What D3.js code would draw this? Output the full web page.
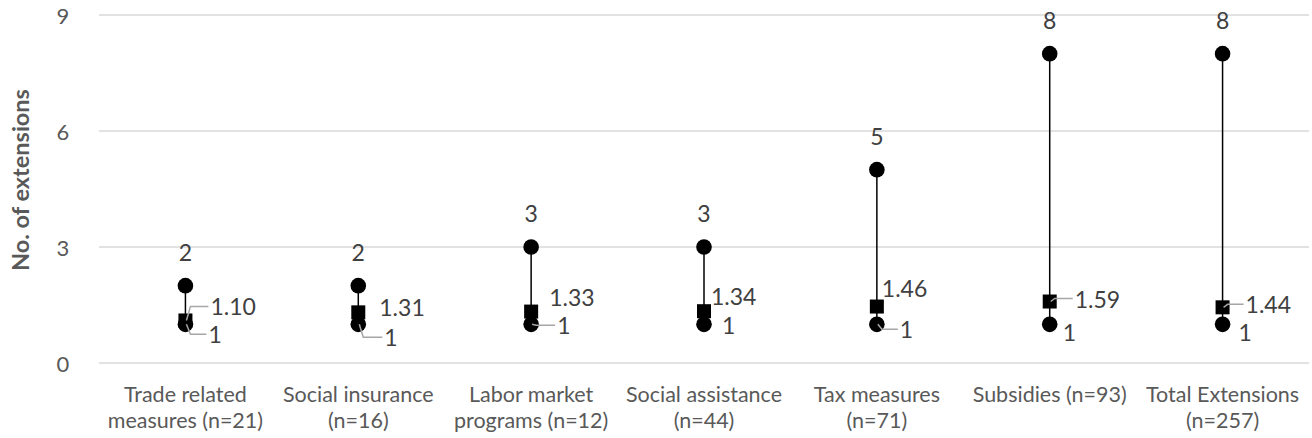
<!DOCTYPE html>
<html>
<head>
<meta charset="utf-8">
<script src="https://cdn.jsdelivr.net/npm/d3@7/dist/d3.min.js"></script>
<style>
  html, body { margin: 0; padding: 0; background: #fff; }
  svg { display: block; font-family: Lato, "Open Sans", sans-serif; }
</style>
</head>
<body>
<svg id="chart" width="1312" height="438"></svg>
<script>
// Extensions per instrument type: minimum, mean and maximum
const categories = [
  ["Trade related", "measures (n=21)"],
  ["Social insurance", "(n=16)"],
  ["Labor market", "programs (n=12)"],
  ["Social assistance", "(n=44)"],
  ["Tax measures", "(n=71)"],
  ["Subsidies (n=93)"],
  ["Total Extensions", "(n=257)"]
];
const minValues  = [1, 1, 1, 1, 1, 1, 1];
const meanValues = [1.10, 1.31, 1.33, 1.34, 1.46, 1.59, 1.44];
const maxValues  = [2, 2, 3, 3, 5, 8, 8];
const yTicks = [0, 3, 6, 9];

// Hand-placed label offsets (px, relative to the marker) and leader flags
const meanLabelPos = [[25, -14, true], [21, -5, false], [18, -15, false], [7, -15, false], [5, -19, false], [25, -3, true], [23, -3, true]];
const minLabelPos  = [[23, 10, true], [26, 13, true], [26, 1, true], [18, 1, false], [23, 5, true], [13, 8, false], [16, 8, false]];

const svg = d3.select("#chart");
const margin = { left: 99, right: 3, top: 15, bottom: 75 };
const W = 1312, H = 438;
const textColor = "#595959";

const x = d3.scaleBand()
  .domain(d3.range(categories.length))
  .range([margin.left, W - margin.right]);
const y = d3.scaleLinear().domain([0, 9]).range([H - margin.bottom, margin.top]);

// Horizontal gridlines
svg.append("g")
  .selectAll("line")
  .data(yTicks)
  .join("line")
  .attr("x1", margin.left).attr("x2", W - margin.right)
  .attr("y1", d => y(d)).attr("y2", d => y(d))
  .attr("stroke", "#d9d9d9").attr("stroke-width", 1.5);

// Y axis tick labels
svg.append("g")
  .selectAll("text")
  .data(yTicks)
  .join("text")
  .attr("x", 63).attr("y", d => y(d))
  .attr("text-anchor", "middle").attr("dominant-baseline", "central")
  .attr("fill", textColor).attr("font-size", 22)
  .text(d => d);

// Y axis title
svg.append("text")
  .attr("transform", `translate(20, ${180}) rotate(-90)`)
  .attr("text-anchor", "middle").attr("dominant-baseline", "central")
  .attr("fill", textColor).attr("font-size", 23.5).attr("font-weight", "bold")
  .text("No. of extensions");

// Category labels
const xl = svg.append("g")
  .selectAll("text")
  .data(categories)
  .join("text")
  .attr("x", (d, i) => x(i) + x.bandwidth() / 2)
  .attr("y", 394)
  .attr("text-anchor", "middle").attr("dominant-baseline", "central")
  .attr("fill", textColor).attr("font-size", 21.5);
xl.selectAll("tspan")
  .data(d => d)
  .join("tspan")
  .attr("x", function () { return d3.select(this.parentNode).attr("x"); })
  .attr("dy", (d, j) => j === 0 ? 0 : 26)
  .text(d => d);

const cx = i => x(i) + x.bandwidth() / 2;

// Range lines from min to max
svg.append("g")
  .selectAll("line")
  .data(d3.range(categories.length))
  .join("line")
  .attr("x1", cx).attr("x2", cx)
  .attr("y1", i => y(minValues[i])).attr("y2", i => y(maxValues[i]))
  .attr("stroke", "#000").attr("stroke-width", 1.5);

// Min and max circles
const circles = d3.range(categories.length).flatMap(i => [
  { i, v: minValues[i] }, { i, v: maxValues[i] }
]);
svg.append("g")
  .selectAll("circle")
  .data(circles)
  .join("circle")
  .attr("cx", d => cx(d.i)).attr("cy", d => y(d.v))
  .attr("r", 7.8).attr("fill", "#000");

// Mean squares
const sq = 14;
svg.append("g")
  .selectAll("rect")
  .data(d3.range(categories.length))
  .join("rect")
  .attr("x", i => cx(i) - sq / 2).attr("y", i => y(meanValues[i]) - sq / 2)
  .attr("width", sq).attr("height", sq).attr("fill", "#000");

// Max labels above the circles
svg.append("g")
  .selectAll("text")
  .data(d3.range(categories.length))
  .join("text")
  .attr("x", cx).attr("y", i => y(maxValues[i]) - 34)
  .attr("text-anchor", "middle").attr("dominant-baseline", "central")
  .attr("fill", "#404040").attr("font-size", 23)
  .text(i => maxValues[i]);

// Mean and min labels with leader lines
function sideLabels(values, pos, fmt) {
  const g = svg.append("g");
  values.forEach((v, i) => {
    const mx = cx(i), my = y(v);
    const [dx, dy, leader] = pos[i];
    const lx = mx + dx, ly = my + dy;
    if (leader) {
      const ex = lx - 10;
      g.append("path")
        .attr("d", d3.line()([[mx + 1, my], [Math.min(mx + 5, ex), ly], [lx - 2, ly]]))
        .attr("fill", "none").attr("stroke", "#a6a6a6").attr("stroke-width", 1.5);
    }
    g.append("text")
      .attr("x", lx).attr("y", ly)
      .attr("dominant-baseline", "central")
      .attr("fill", "#404040").attr("font-size", 23)
      .text(fmt(v));
  });
}
sideLabels(meanValues, meanLabelPos, d3.format(".2f"));
sideLabels(minValues, minLabelPos, d => d);
</script>
</body>
</html>
